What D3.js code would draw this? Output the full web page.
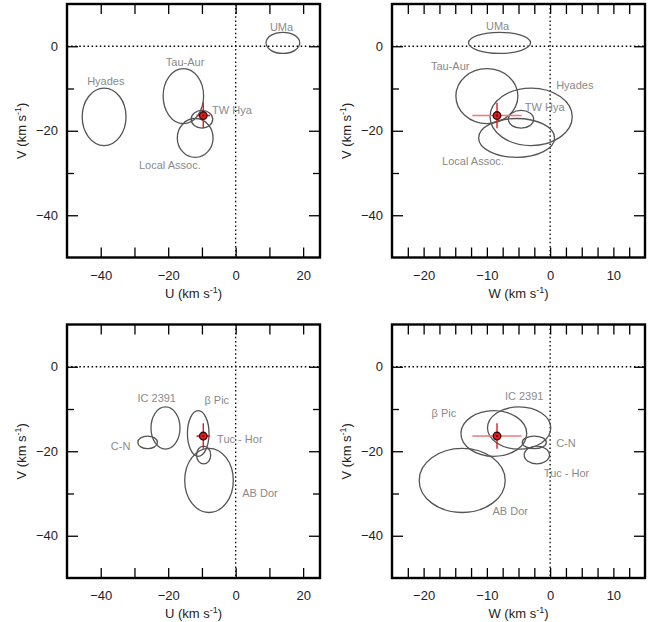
<!DOCTYPE html>
<html>
<head>
<meta charset="utf-8">
<script src="https://cdn.jsdelivr.net/npm/d3@7"></script>
<style>
body{margin:0;background:#fff;}
svg{display:block;font-family:"Liberation Sans",Arial,sans-serif;}
</style>
</head>
<body>
<svg id="chart" width="655" height="622"></svg>
<script>
// ---- Data (km/s) ----
// Top row: moving groups
const groupsA = ["UMa", "Hyades", "Tau-Aur", "TW Hya", "Local Assoc."];
const U_A  = [14.0, -39.0, -15.5, -10.0, -12.0];
const V_A  = [0.8, -16.7, -11.8, -17.3, -21.7];
const W_A  = [-8.0, -3.0, -10.0, -4.6, -5.3];
const sU_A = [5.0, 6.5, 6.0, 3.2, 5.3];
const sV_A = [2.5, 6.8, 6.5, 2.1, 4.6];
const sW_A = [4.9, 6.5, 4.9, 2.0, 6.0];
// label anchors (data units) for top row
const labU_A = [13.6, -38.5, -15.0, -7.0, -19.5];
const labV_A = [4.6, -8.2, -3.7, -15.1, -28.2];
const labW_A = [-8.3, 3.9, -15.8, -4.0, -12.2];
const labVW_A = [4.8, -9.2, -4.7, -14.4, -27.3];
const labStartU_A = [false, false, false, true, false];
const labStartW_A = [false, false, false, true, false];

// Bottom row: young associations
const groupsB = ["IC 2391", "C-N", "β Pic", "Tuc - Hor", "AB Dor"];
const U_B  = [-20.8, -26.1, -11.1, -9.5, -7.9];
const V_B  = [-14.5, -17.9, -15.8, -20.9, -26.9];
const W_B  = [-4.9, -2.5, -8.9, -2.1, -13.9];
const sU_B = [4.3, 2.9, 3.2, 2.1, 7.2];
const sV_B = [5.0, 1.5, 5.4, 2.1, 7.6];
const sW_B = [5.0, 1.9, 5.2, 2.0, 6.8];
const labU_B = [-23.4, -34.1, -5.6, -5.5, 7.2];
const labV_B = [-7.5, -18.9, -7.9, -17.1, -30.0];
const labW_B = [-4.1, 2.5, -16.8, 2.6, -6.3];
const labVW_B = [-6.9, -18.0, -11.0, -25.1, -34.1];
const labStartU_B = [false, false, false, true, false];
const labStartW_B = [false, false, false, false, false];

// TW Hya (star) with errors
const starU = -9.6, starV = -16.4, starW = -8.4;
const starErrU = 2.0, starErrV = 3.0, starErrW = 3.9;

// Axes
const uDomain = [-50, 25], vDomain = [10, -50], wDomain = [-25, 15];
const uTicks = [-40, -30, -20, -10, 0, 10, 20];
const uLabels = [-40, -20, 0, 20];
const vTicks = [-40, -30, -20, -10, 0];
const vLabels = [-40, -20, 0];
const wTicks = d3.range(-22.5, 15, 2.5);
const wLabels = [-20, -10, 0, 10];

// ---- Drawing ----
const svg = d3.select("#chart");

function panel(opts) {
  const {x0, x1, y0, y1, xDomain, xTicks, xLabels, xName, hx, lab} = opts;
  const x = d3.scaleLinear().domain(xDomain).range([x0, x1]);
  const y = d3.scaleLinear().domain(vDomain).range([y0, y1]);
  const g = svg.append("g");

  const clipId = "clip" + Math.round(x0) + "_" + Math.round(y0);
  g.append("clipPath").attr("id", clipId).append("rect")
    .attr("x", x0).attr("y", y0).attr("width", x1 - x0).attr("height", y1 - y0);
  const plot = g.append("g").attr("clip-path", `url(#${clipId})`);

  // dotted zero lines
  plot.append("line").attr("x1", x0).attr("x2", x1).attr("y1", y(0)).attr("y2", y(0))
    .attr("stroke", "#000").attr("stroke-width", 1.3).attr("stroke-dasharray", "1.5,2.6");
  plot.append("line").attr("x1", x(0)).attr("x2", x(0)).attr("y1", y0).attr("y2", y1)
    .attr("stroke", "#000").attr("stroke-width", 1.3).attr("stroke-dasharray", "1.5,2.6");

  // ellipses
  const n = opts.names.length;
  const idx = d3.range(n);
  plot.selectAll("ellipse.grp").data(idx).join("ellipse")
    .attr("class", "grp")
    .attr("cx", i => x(opts.xs[i]))
    .attr("cy", i => y(opts.ys[i]))
    .attr("rx", i => Math.abs(x(opts.xs[i] + opts.sx[i]) - x(opts.xs[i])))
    .attr("ry", i => Math.abs(y(opts.ys[i] + opts.sy[i]) - y(opts.ys[i])))
    .attr("fill", "none").attr("stroke", "#555").attr("stroke-width", 1.3);

  // labels
  g.selectAll("text.lab").data(idx).join("text")
    .attr("class", "lab")
    .attr("x", i => x(lab.xs[i])).attr("y", i => y(lab.ys[i]))
    .attr("dy", "0.35em")
    .attr("text-anchor", i => lab.start[i] ? "start" : "middle")
    .attr("fill", "#8a8a8a").attr("font-size", 11)
    .text(i => opts.names[i]);

  // star with error bars
  const sx = x(opts.star[0]), sy = y(starV);
  g.append("line").attr("x1", x(opts.star[0] - opts.star[1])).attr("x2", x(opts.star[0] + opts.star[1]))
    .attr("y1", sy).attr("y2", sy).attr("stroke", hx).attr("stroke-width", 1.6);
  g.append("line").attr("x1", sx).attr("x2", sx)
    .attr("y1", y(starV + starErrV)).attr("y2", y(starV - starErrV))
    .attr("stroke", "#e3191c").attr("stroke-width", 1.4);
  g.append("circle").attr("cx", sx).attr("cy", sy).attr("r", 3.8)
    .attr("fill", "#e41a1c").attr("stroke", "#2a0a0a").attr("stroke-width", 1.3);
  g.append("circle").attr("cx", sx).attr("cy", sy).attr("r", 1.1).attr("fill", "#5a0000");

  // axes with inward ticks
  function styleTicks(sel, labels, longLen, shortLen, horizontal, sign) {
    sel.selectAll(".tick line").each(function(d) {
      const len = (labels.indexOf(d) >= 0 ? longLen : shortLen) * sign;
      if (horizontal) d3.select(this).attr("y2", len); else d3.select(this).attr("x2", len);
    }).attr("stroke", "#000").attr("stroke-width", 1.3);
    sel.select(".domain").remove();
  }
  const fmt = labels => d => labels.indexOf(d) >= 0 ? d3.format("d")(d) : "";

  const bx = g.append("g").attr("transform", `translate(0,${y1})`)
    .call(d3.axisBottom(x).tickValues(xTicks).tickFormat(fmt(xLabels)).tickPadding(10));
  styleTicks(bx, xLabels, -10, -10, true, 1);
  bx.selectAll("text").attr("font-size", 13).attr("fill", "#222").attr("font-family", "Liberation Sans, Arial, sans-serif")
    .attr("y", 13);

  const tx = g.append("g").attr("transform", `translate(0,${y0})`)
    .call(d3.axisTop(x).tickValues(xTicks).tickFormat(""));
  styleTicks(tx, xLabels, 10, 10, true, 1);

  const ly = g.append("g").attr("transform", `translate(${x0},0)`)
    .call(d3.axisLeft(y).tickValues(vTicks).tickFormat(fmt(vLabels)));
  styleTicks(ly, vLabels, 11, 7, false, 1);
  ly.selectAll("text").attr("font-size", 13).attr("fill", "#222").attr("font-family", "Liberation Sans, Arial, sans-serif")
    .attr("x", -9);

  const ry = g.append("g").attr("transform", `translate(${x1},0)`)
    .call(d3.axisRight(y).tickValues(vTicks).tickFormat(""));
  styleTicks(ry, vLabels, -11, -7, false, 1);

  // frame
  g.append("rect").attr("x", x0).attr("y", y0).attr("width", x1 - x0).attr("height", y1 - y0)
    .attr("fill", "none").attr("stroke", "#000").attr("stroke-width", 2.4);

  // axis titles
  const xt = g.append("text").attr("x", (x0 + x1) / 2).attr("y", y1 + 40)
    .attr("text-anchor", "middle").attr("font-size", 13).attr("fill", "#222");
  xt.append("tspan").text(xName + " (km s");
  xt.append("tspan").attr("dy", -5).attr("font-size", 9).text("-1");
  xt.append("tspan").attr("dy", 5).text(")");

  const yt = g.append("text")
    .attr("transform", `translate(${x0 - 41},${(y0 + y1) / 2}) rotate(-90)`)
    .attr("text-anchor", "middle").attr("font-size", 13).attr("fill", "#222");
  yt.append("tspan").text("V (km s");
  yt.append("tspan").attr("dy", -5).attr("font-size", 9).text("-1");
  yt.append("tspan").attr("dy", 5).text(")");
}

const L = [67, 320], R = [392, 645], T = [4, 257.5], B = [324.5, 578];

panel({x0: L[0], x1: L[1], y0: T[0], y1: T[1], xDomain: uDomain, xTicks: uTicks, xLabels: uLabels, xName: "U",
  names: groupsA, xs: U_A, ys: V_A, sx: sU_A, sy: sV_A, star: [starU, starErrU], hx: "#e3191c",
  lab: {xs: labU_A, ys: labV_A, start: labStartU_A}});
panel({x0: R[0], x1: R[1], y0: T[0], y1: T[1], xDomain: wDomain, xTicks: wTicks, xLabels: wLabels, xName: "W",
  names: groupsA, xs: W_A, ys: V_A, sx: sW_A, sy: sV_A, star: [starW, starErrW], hx: "#f07878",
  lab: {xs: labW_A, ys: labVW_A, start: labStartW_A}});
panel({x0: L[0], x1: L[1], y0: B[0], y1: B[1], xDomain: uDomain, xTicks: uTicks, xLabels: uLabels, xName: "U",
  names: groupsB, xs: U_B, ys: V_B, sx: sU_B, sy: sV_B, star: [starU, starErrU], hx: "#e3191c",
  lab: {xs: labU_B, ys: labV_B, start: labStartU_B}});
panel({x0: R[0], x1: R[1], y0: B[0], y1: B[1], xDomain: wDomain, xTicks: wTicks, xLabels: wLabels, xName: "W",
  names: groupsB, xs: W_B, ys: V_B, sx: sW_B, sy: sV_B, star: [starW, starErrW], hx: "#f07878",
  lab: {xs: labW_B, ys: labVW_B, start: labStartW_B}});
</script>
</body>
</html>
